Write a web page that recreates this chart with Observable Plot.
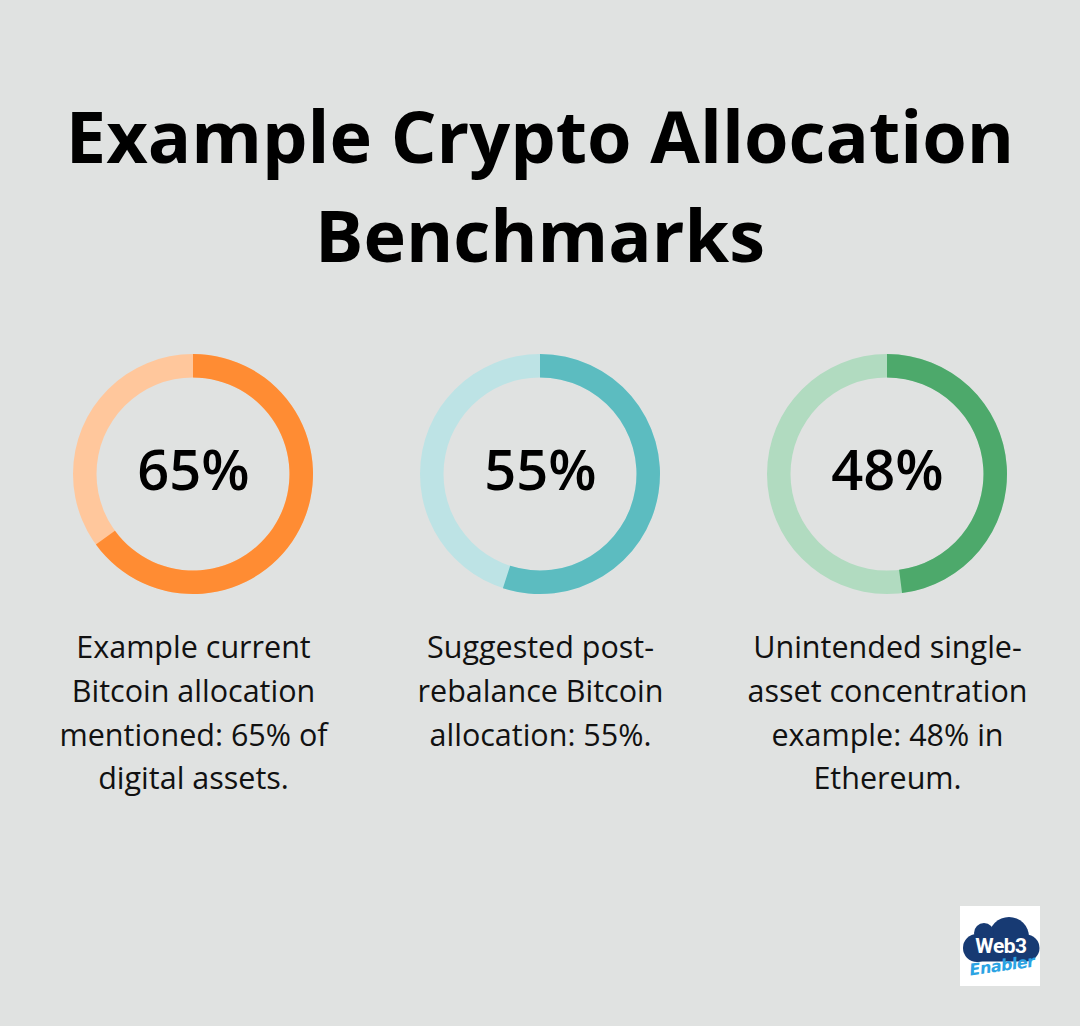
<!DOCTYPE html>
<html>
<head>
<meta charset="utf-8">
<script src="https://cdn.jsdelivr.net/npm/d3@7"></script>
<script src="https://cdn.jsdelivr.net/npm/@observablehq/plot@0.6"></script>
<style>
  html, body { margin: 0; padding: 0; background: #E0E2E1; }
  #page { position: relative; width: 1080px; height: 1026px; background: #E0E2E1; overflow: hidden; font-family: "Open Sans", sans-serif; }
  #title { position: absolute; left: 0; top: 86px; width: 1080px; text-align: center; font-weight: 700; font-size: 72px; line-height: 99px; color: #000; margin: 0; }
  #chart { position: absolute; left: 0; top: 300px; }
  #logo { position: absolute; left: 960px; top: 906px; width: 80px; height: 80px; background: #fff; }
</style>
</head>
<body>
<div id="page">
  <h1 id="title">Example Crypto Allocation<br>Benchmarks</h1>
  <div id="chart"></div>
  <div id="logo">
    <svg width="80" height="80" viewBox="0 0 80 80">
      <g fill="#173A73">
        <circle cx="49" cy="31" r="20"/>
        <circle cx="24" cy="27" r="10"/>
        <circle cx="17" cy="42" r="14"/>
        <circle cx="66" cy="42" r="13.5"/>
        <rect x="17" y="30" width="49" height="25.5"/>
      </g>
      <text x="41" y="47" text-anchor="middle" fill="#fff" font-family="Liberation Sans Narrow, Roboto, sans-serif" font-weight="700" font-size="21" letter-spacing="-0.5">Web3</text>
      <text x="42" y="65" text-anchor="middle" fill="#2AA3E3" font-family="DejaVu Sans, sans-serif" font-style="italic" font-weight="700" font-size="16" letter-spacing="-0.5" transform="rotate(-8 42 60)">Enabler</text>
    </svg>
  </div>
</div>
<script>
const categories = ["Current Bitcoin", "Post-rebalance Bitcoin", "Ethereum concentration"];
const values = [65, 55, 48];
const valueLabels = ["65%", "55%", "48%"];
const descriptions = [
  "Example current\nBitcoin allocation\nmentioned: 65% of\ndigital assets.",
  "Suggested post-\nrebalance Bitcoin\nallocation: 55%.",
  "Unintended single-\nasset concentration\nexample: 48% in\nEthereum."
];
const colors = ["#FF8C33", "#5CBCC0", "#4DA96B"];
const tints = ["#FFC79C", "#BDE3E5", "#B1DBC0"];

const data = categories.map((c, i) => ({
  category: c, value: values[i], label: valueLabels[i],
  description: descriptions[i], color: colors[i], tint: tints[i]
}));

const ringCenterY = 174;
const outerR = 120, innerR = 96.5;

const ringMark = (index, scales) => {
  const g = d3.create("svg:g");
  const arc = d3.arc().innerRadius(innerR).outerRadius(outerR);
  for (const d of data) {
    const cx = scales.x(d.category);
    const gg = g.append("g").attr("transform", `translate(${cx},${ringCenterY})`);
    gg.append("path").attr("d", arc({startAngle: 0, endAngle: 2 * Math.PI})).attr("fill", d.tint);
    gg.append("path").attr("d", arc({startAngle: 0, endAngle: 2 * Math.PI * d.value / 100})).attr("fill", d.color);
  }
  return g.node();
};

const chart = Plot.plot({
  width: 1080,
  height: 726,
  marginLeft: 193,
  marginRight: 193,
  marginTop: 0,
  marginBottom: 0,
  style: { background: "transparent", overflow: "visible" },
  x: { type: "point", domain: categories, padding: 0, axis: null },
  marks: [
    ringMark,
    Plot.text(data, {
      x: "category", text: "label", frameAnchor: "top", lineAnchor: "top", dy: 150,
      fontFamily: "Open Sans", fontSize: 56, fontWeight: 600, fill: "#000"
    }),
    Plot.text(data, {
      x: "category", text: "description", frameAnchor: "top", lineAnchor: "top", dy: 327,
      fontFamily: "Open Sans", fontSize: 30.5, fontWeight: 400, lineHeight: 1.43, fill: "#111"
    })
  ]
});
document.getElementById("chart").appendChild(chart);
</script>
</body>
</html>
